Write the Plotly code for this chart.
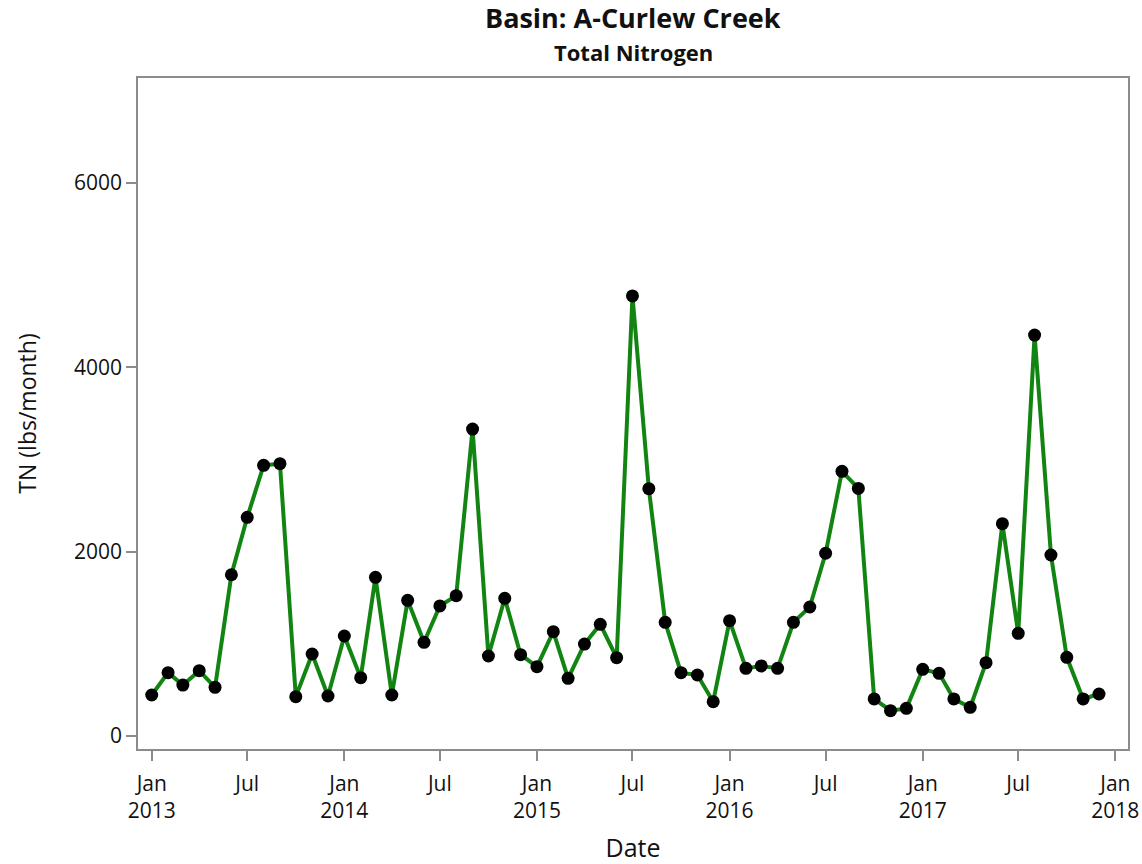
import plotly.graph_objects as go

# Monthly total nitrogen load, Jan 2013 - Dec 2017
months = [f"{y}-{m:02d}-01" for y in range(2013, 2018) for m in range(1, 13)]
tn_lbs = [
    445, 687, 553, 709, 528, 1750, 2373, 2937, 2955, 427, 890, 434,
    1085, 633, 1722, 445, 1472, 1017, 1411, 1523, 3331, 868, 1494, 882,
    752, 1132, 626, 998, 1212, 850, 4775, 2684, 1234, 687, 662, 372,
    1251, 734, 760, 734, 1234, 1400, 1983, 2872, 2686, 402, 275, 300,
    724, 680, 402, 311, 796, 2304, 1114, 4351, 1964, 854, 402, 456,
]

x_tick_vals = ["2013-01-01", "2013-07-01", "2014-01-01", "2014-07-01", "2015-01-01",
               "2015-07-01", "2016-01-01", "2016-07-01", "2017-01-01", "2017-07-01",
               "2018-01-01"]
x_tick_text = ["Jan<br>2013", "Jul", "Jan<br>2014", "Jul", "Jan<br>2015", "Jul",
               "Jan<br>2016", "Jul", "Jan<br>2017", "Jul", "Jan<br>2018"]
y_tick_vals = [0, 2000, 4000, 6000]

FONT = "Open Sans"
AXIS_GREY = "#8c8c8c"

fig = go.Figure()
fig.add_trace(go.Scatter(
    x=months, y=tn_lbs,
    mode="lines+markers",
    line=dict(color="#128412", width=4),
    marker=dict(color="black", size=13),
    showlegend=False,
))

fig.update_layout(
    width=1142, height=864,
    margin=dict(l=138, r=14, t=78, b=115),
    paper_bgcolor="white", plot_bgcolor="white",
    font=dict(family=FONT, size=21, color="#111111"),
    xaxis=dict(
        range=["2012-12-06", "2018-01-25"],
        tickvals=x_tick_vals, ticktext=x_tick_text,
        automargin=False,
        showgrid=False, zeroline=False,
        showline=True, linecolor=AXIS_GREY, linewidth=1.5, mirror=True,
        ticks="outside", ticklen=10, tickcolor=AXIS_GREY, tickwidth=1.5,
        ticklabelstandoff=5,
        tickfont=dict(size=21),
        title=dict(text="Date", font=dict(size=25), standoff=18),
    ),
    yaxis=dict(
        range=[-141, 7140],
        tickvals=y_tick_vals,
        automargin=False,
        showgrid=False, zeroline=False,
        showline=True, linecolor=AXIS_GREY, linewidth=1.5, mirror=True,
        ticks="outside", ticklen=10, tickcolor=AXIS_GREY, tickwidth=1.5,
        tickfont=dict(size=21),
        title=dict(text="TN (lbs/month)", font=dict(size=23), standoff=31),
    ),
)

fig.add_annotation(text="<b>Basin: A-Curlew Creek</b>", xref="paper", yref="paper",
                   x=0.5, y=1, yshift=61, xanchor="center", yanchor="middle",
                   showarrow=False, font=dict(family=FONT, size=27, color="#111111"))
fig.add_annotation(text="<b>Total Nitrogen</b>", xref="paper", yref="paper",
                   x=0.5, y=1, yshift=26, xanchor="center", yanchor="middle",
                   showarrow=False, font=dict(family=FONT, size=22, color="#111111"))

fig.write_html("out.html")
